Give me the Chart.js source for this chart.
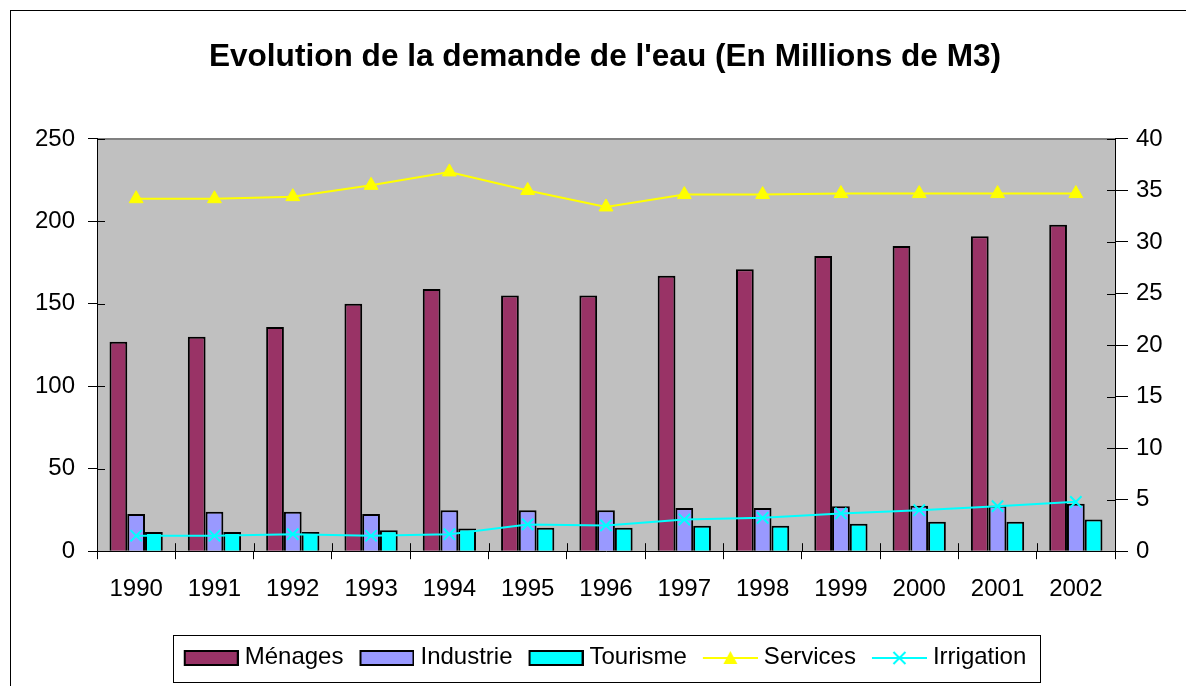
<!DOCTYPE html>
<html><head><meta charset="utf-8">
<script src="https://cdn.jsdelivr.net/npm/chart.js@4/dist/chart.umd.min.js"></script>
<style>
html,body{margin:0;padding:0;background:#fff;overflow:hidden;width:1186px;height:686px;}
canvas{position:absolute;left:0;top:0;}
#frame{position:absolute;left:10px;top:10px;width:1200px;height:700px;border:1px solid #000;pointer-events:none;}
</style></head><body>
<canvas id="c" width="1186" height="686"></canvas>
<div id="frame"></div>
<script>
const years = ['1990','1991','1992','1993','1994','1995','1996','1997','1998','1999','2000','2001','2002'];
const menages   = [127, 130, 136, 150, 159, 155, 155, 167, 171, 179, 185, 191, 198];
const industrie = [22.6, 23.9, 23.9, 22.6, 24.9, 24.9, 24.9, 26.2, 26.2, 27.3, 27.5, 27.5, 28.8];
const tourisme  = [11.7, 11.7, 11.7, 12.7, 13.7, 14.2, 14.2, 15.4, 15.4, 16.6, 17.8, 17.8, 19.2];
const services  = [34.2, 34.2, 34.4, 35.5, 36.8, 35.0, 33.4, 34.6, 34.6, 34.7, 34.7, 34.7, 34.7];
const irrigation= [1.5, 1.5, 1.65, 1.5, 1.65, 2.6, 2.5, 3.07, 3.24, 3.66, 3.98, 4.37, 4.79];
const leftTicks = [0, 50, 100, 150, 200, 250];
const rightTicks = [0, 5, 10, 15, 20, 25, 30, 35, 40];

const FONT = "Arial, 'Liberation Sans', sans-serif";

function makeSymbol(kind, color) {
  const c = document.createElement('canvas');
  c.width = 61; c.height = 20;
  const g = c.getContext('2d');
  if (kind === 'bar') {
    g.fillStyle = color; g.fillRect(7, 4, 53, 14);
    g.strokeStyle = '#000'; g.lineWidth = 2; g.strokeRect(7, 4, 53, 14);
  } else {
    g.strokeStyle = color; g.lineWidth = 2;
    g.beginPath(); g.moveTo(6, 11); g.lineTo(61, 11); g.stroke();
    const cx = 33.5;
    if (kind === 'triangle') {
      g.fillStyle = color; g.beginPath();
      g.moveTo(cx, 4); g.lineTo(cx + 7, 17); g.lineTo(cx - 7, 17); g.closePath(); g.fill();
    } else {
      g.beginPath(); g.moveTo(cx - 6, 5); g.lineTo(cx + 6, 17); g.moveTo(cx + 6, 5); g.lineTo(cx - 6, 17); g.stroke();
    }
  }
  return c;
}

const decor = {
  id: 'decor',
  beforeDraw(chart) {
    const {ctx, chartArea: a} = chart;
    ctx.save();
    ctx.fillStyle = '#C0C0C0';
    ctx.fillRect(a.left, a.top, a.right - a.left, a.bottom - a.top);
    ctx.strokeStyle = '#808080'; ctx.lineWidth = 2;
    ctx.beginPath(); ctx.moveTo(a.left, a.top); ctx.lineTo(a.right, a.top); ctx.stroke();
    ctx.restore();
  },
  beforeDatasetsDraw(chart) {
    const {ctx, chartArea: a, scales} = chart;
    ctx.save();
    ctx.strokeStyle = '#000'; ctx.lineWidth = 1;
    ctx.beginPath();
    const x = scales.x;
    const w = x.getPixelForValue(1) - x.getPixelForValue(0);
    for (let i = 1; i < years.length; i++) {
      const px = Math.round(x.getPixelForValue(i) - w / 2) + 0.5;
      ctx.moveTo(px, a.bottom); ctx.lineTo(px, a.bottom - 8);
    }
    scales.y.ticks.forEach(t => {
      const py = Math.round(scales.y.getPixelForValue(t.value)) + 0.5;
      ctx.moveTo(a.left, py); ctx.lineTo(a.left + 8, py);
    });
    scales.y1.ticks.forEach(t => {
      const py = Math.round(scales.y1.getPixelForValue(t.value)) + 0.5;
      ctx.moveTo(a.right, py); ctx.lineTo(a.right - 8, py);
    });
    ctx.stroke();
    ctx.restore();
  },
  afterDraw(chart) {
    const hb = chart.legend && chart.legend.legendHitBoxes;
    if (!hb || !hb.length) return;
    const left = Math.min(...hb.map(h => h.left));
    const right = Math.max(...hb.map(h => h.left + h.width));
    const top = hb[0].top, h = hb[0].height;
    const ctx = chart.ctx;
    ctx.save();
    ctx.strokeStyle = '#000'; ctx.lineWidth = 1;
    ctx.strokeRect(Math.round(left - 11) + 0.5, Math.round(top - 10) + 0.5, Math.round(right - left + 24), Math.round(h + 23));
    ctx.restore();
  }
};

const symbols = [
  makeSymbol('bar', '#993366'),
  makeSymbol('bar', '#9999FF'),
  makeSymbol('bar', '#00FFFF'),
  makeSymbol('triangle', '#FFFF00'),
  makeSymbol('cross', '#00FFFF')
];

const barCommon = {borderColor: '#000', borderWidth: 2, yAxisID: 'y', order: 2, categoryPercentage: 0.68, barPercentage: 1};

new Chart(document.getElementById('c'), {
  type: 'bar',
  data: {
    labels: years,
    datasets: [
      Object.assign({label: 'Ménages', data: menages, backgroundColor: '#993366'}, barCommon),
      Object.assign({label: 'Industrie', data: industrie, backgroundColor: '#9999FF'}, barCommon),
      Object.assign({label: 'Tourisme', data: tourisme, backgroundColor: '#00FFFF'}, barCommon),
      {type: 'line', label: 'Services', data: services, borderColor: '#FFFF00', backgroundColor: '#FFFF00', borderWidth: 2,
       pointStyle: 'triangle', pointRadius: 8, pointBackgroundColor: '#FFFF00', pointBorderColor: '#FFFF00', pointBorderWidth: 1,
       tension: 0, yAxisID: 'y1', order: 1},
      {type: 'line', label: 'Irrigation', data: irrigation, borderColor: '#00FFFF', backgroundColor: '#00FFFF', borderWidth: 2,
       pointStyle: 'crossRot', pointRadius: 8, pointBorderColor: '#00FFFF', pointBorderWidth: 2,
       tension: 0, yAxisID: 'y1', order: 1}
    ]
  },
  options: {
    responsive: false,
    animation: false,
    devicePixelRatio: 1,
    layout: {padding: {left: 30, right: 6, top: 0, bottom: 7}},
    plugins: {
      title: {
        display: true,
        text: "Evolution de la demande de l'eau (En Millions de M3)",
        color: '#000',
        font: {family: FONT, size: 31.6, weight: 'bold'},
        padding: {top: 38, bottom: 63}
      },
      legend: {
        position: 'bottom',
        labels: {
          color: '#000',
          font: {family: FONT, size: 24},
          usePointStyle: true,
          pointStyleWidth: 49,
          padding: 16,
          generateLabels(chart) {
            return chart.data.datasets.map((ds, i) => ({
              text: ds.label,
              pointStyle: symbols[i],
              fillStyle: ds.backgroundColor,
              strokeStyle: ds.borderColor,
              lineWidth: 0,
              fontColor: '#000',
              hidden: false,
              datasetIndex: i
            }));
          }
        }
      },
      tooltip: {enabled: false}
    },
    scales: {
      x: {
        grid: {display: true, drawOnChartArea: false, drawTicks: true, tickLength: 8, color: '#000', offset: true},
        border: {display: true, color: '#000', width: 1},
        ticks: {color: '#000', font: {family: FONT, size: 24}, padding: 16, maxRotation: 0, autoSkip: false},
        afterFit(s) { s.height += 9; }
      },
      y: {
        position: 'left',
        min: 0, max: 250,
        afterBuildTicks(s) { s.ticks = leftTicks.map(v => ({value: v})); },
        afterFit(s) { s.width = 67; },
        grid: {display: true, drawOnChartArea: false, drawTicks: true, tickLength: 9, color: '#000'},
        border: {display: true, color: '#000', width: 1},
        ticks: {color: '#000', font: {family: FONT, size: 24}, padding: 13}
      },
      y1: {
        position: 'right',
        min: 0, max: 40,
        afterBuildTicks(s) { s.ticks = rightTicks.map(v => ({value: v})); },
        afterFit(s) { s.width = 65; },
        grid: {display: true, drawOnChartArea: false, drawTicks: true, tickLength: 13, color: '#000'},
        border: {display: true, color: '#000', width: 1},
        ticks: {color: '#000', font: {family: FONT, size: 24}, padding: 8}
      }
    }
  },
  plugins: [decor]
});
</script>
</body></html>
